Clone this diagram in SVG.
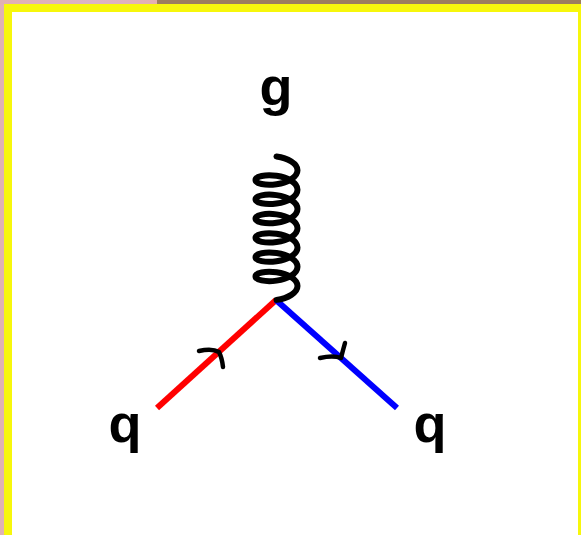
<svg xmlns="http://www.w3.org/2000/svg" width="581" height="535" viewBox="0 0 581 535">
  <defs>
    <linearGradient id="topPink" x1="0" y1="0" x2="1" y2="0">
      <stop offset="0" stop-color="#e2b0b0"/>
      <stop offset="0.6" stop-color="#dcb4c4"/>
      <stop offset="1" stop-color="#e4b0b0"/>
    </linearGradient>
  </defs>
  <style>
    .lbl { font-family: "Liberation Sans", Arial, sans-serif; font-weight: bold; font-size: 54px; fill: #000; text-anchor: middle; }
    .quark { fill: none; stroke-width: 6; stroke-linecap: butt; }
    .arrow { fill: none; stroke: #000; stroke-width: 4.5; stroke-linecap: round; stroke-linejoin: round; }
    .gluon { fill: none; stroke: #000; stroke-width: 6; stroke-linecap: round; }
  </style>
  <!-- frame -->
  <rect x="0" y="0" width="581" height="535" fill="#e0b2b2"/>
  <rect x="0" y="0" width="157" height="4" fill="url(#topPink)"/>
  <rect x="157" y="0" width="424" height="4" fill="#9c7e5e"/>
  <rect x="4" y="4" width="577" height="531" fill="#f7f70c"/>
  <rect x="12" y="12" width="566" height="523" fill="#ffffff"/>

  <g id="connectors">
    <line class="quark" x1="157" y1="408" x2="276" y2="300" stroke="#ff0000"/>
    <line class="quark" x1="276" y1="300" x2="397" y2="408" stroke="#0000ff"/>
    <path class="arrow" d="M199 351 Q212 348 219 352 Q222 358 223 367"/>
    <path class="arrow" d="M320 358 Q333 355 341 358 Q343 350 345 343"/>
    <path class="gluon" d="M276.5 156.528
      c 11.6 1.607 21 7.245 21 13.822 c 0 6.577 -9.4 12.215 -21 13.822 c -11.6 1.607 -21 -0.815 -21 -4.178 c 0 -3.363 9.4 -5.785 21 -4.178
      c 11.6 1.607 21 7.245 21 13.822 c 0 6.577 -9.4 12.215 -21 13.822 c -11.6 1.607 -21 -0.815 -21 -4.178 c 0 -3.363 9.4 -5.785 21 -4.178
      c 11.6 1.607 21 7.245 21 13.822 c 0 6.577 -9.4 12.215 -21 13.822 c -11.6 1.607 -21 -0.815 -21 -4.178 c 0 -3.363 9.4 -5.785 21 -4.178
      c 11.6 1.607 21 7.245 21 13.822 c 0 6.577 -9.4 12.215 -21 13.822 c -11.6 1.607 -21 -0.815 -21 -4.178 c 0 -3.363 9.4 -5.785 21 -4.178
      c 11.6 1.607 21 7.245 21 13.822 c 0 6.577 -9.4 12.215 -21 13.822 c -11.6 1.607 -21 -0.815 -21 -4.178 c 0 -3.363 9.4 -5.785 21 -4.178
      c 11.6 1.607 21 7.245 21 13.822 c 0 6.577 -9.4 12.215 -21 13.822 c -11.6 1.607 -21 -0.815 -21 -4.178 c 0 -3.363 9.4 -5.785 21 -4.178
      c 11.6 1.607 21 7.245 21 13.822 c 0 6.577 -9.4 12.215 -21 13.822"/>
  </g>

  <g id="gluon-label"><text class="lbl" x="276" y="105">g</text></g>
  <g id="quark-left-label"><text class="lbl" x="125" y="442">q</text></g>
  <g id="quark-right-label"><text class="lbl" x="430" y="442">q</text></g>
</svg>
